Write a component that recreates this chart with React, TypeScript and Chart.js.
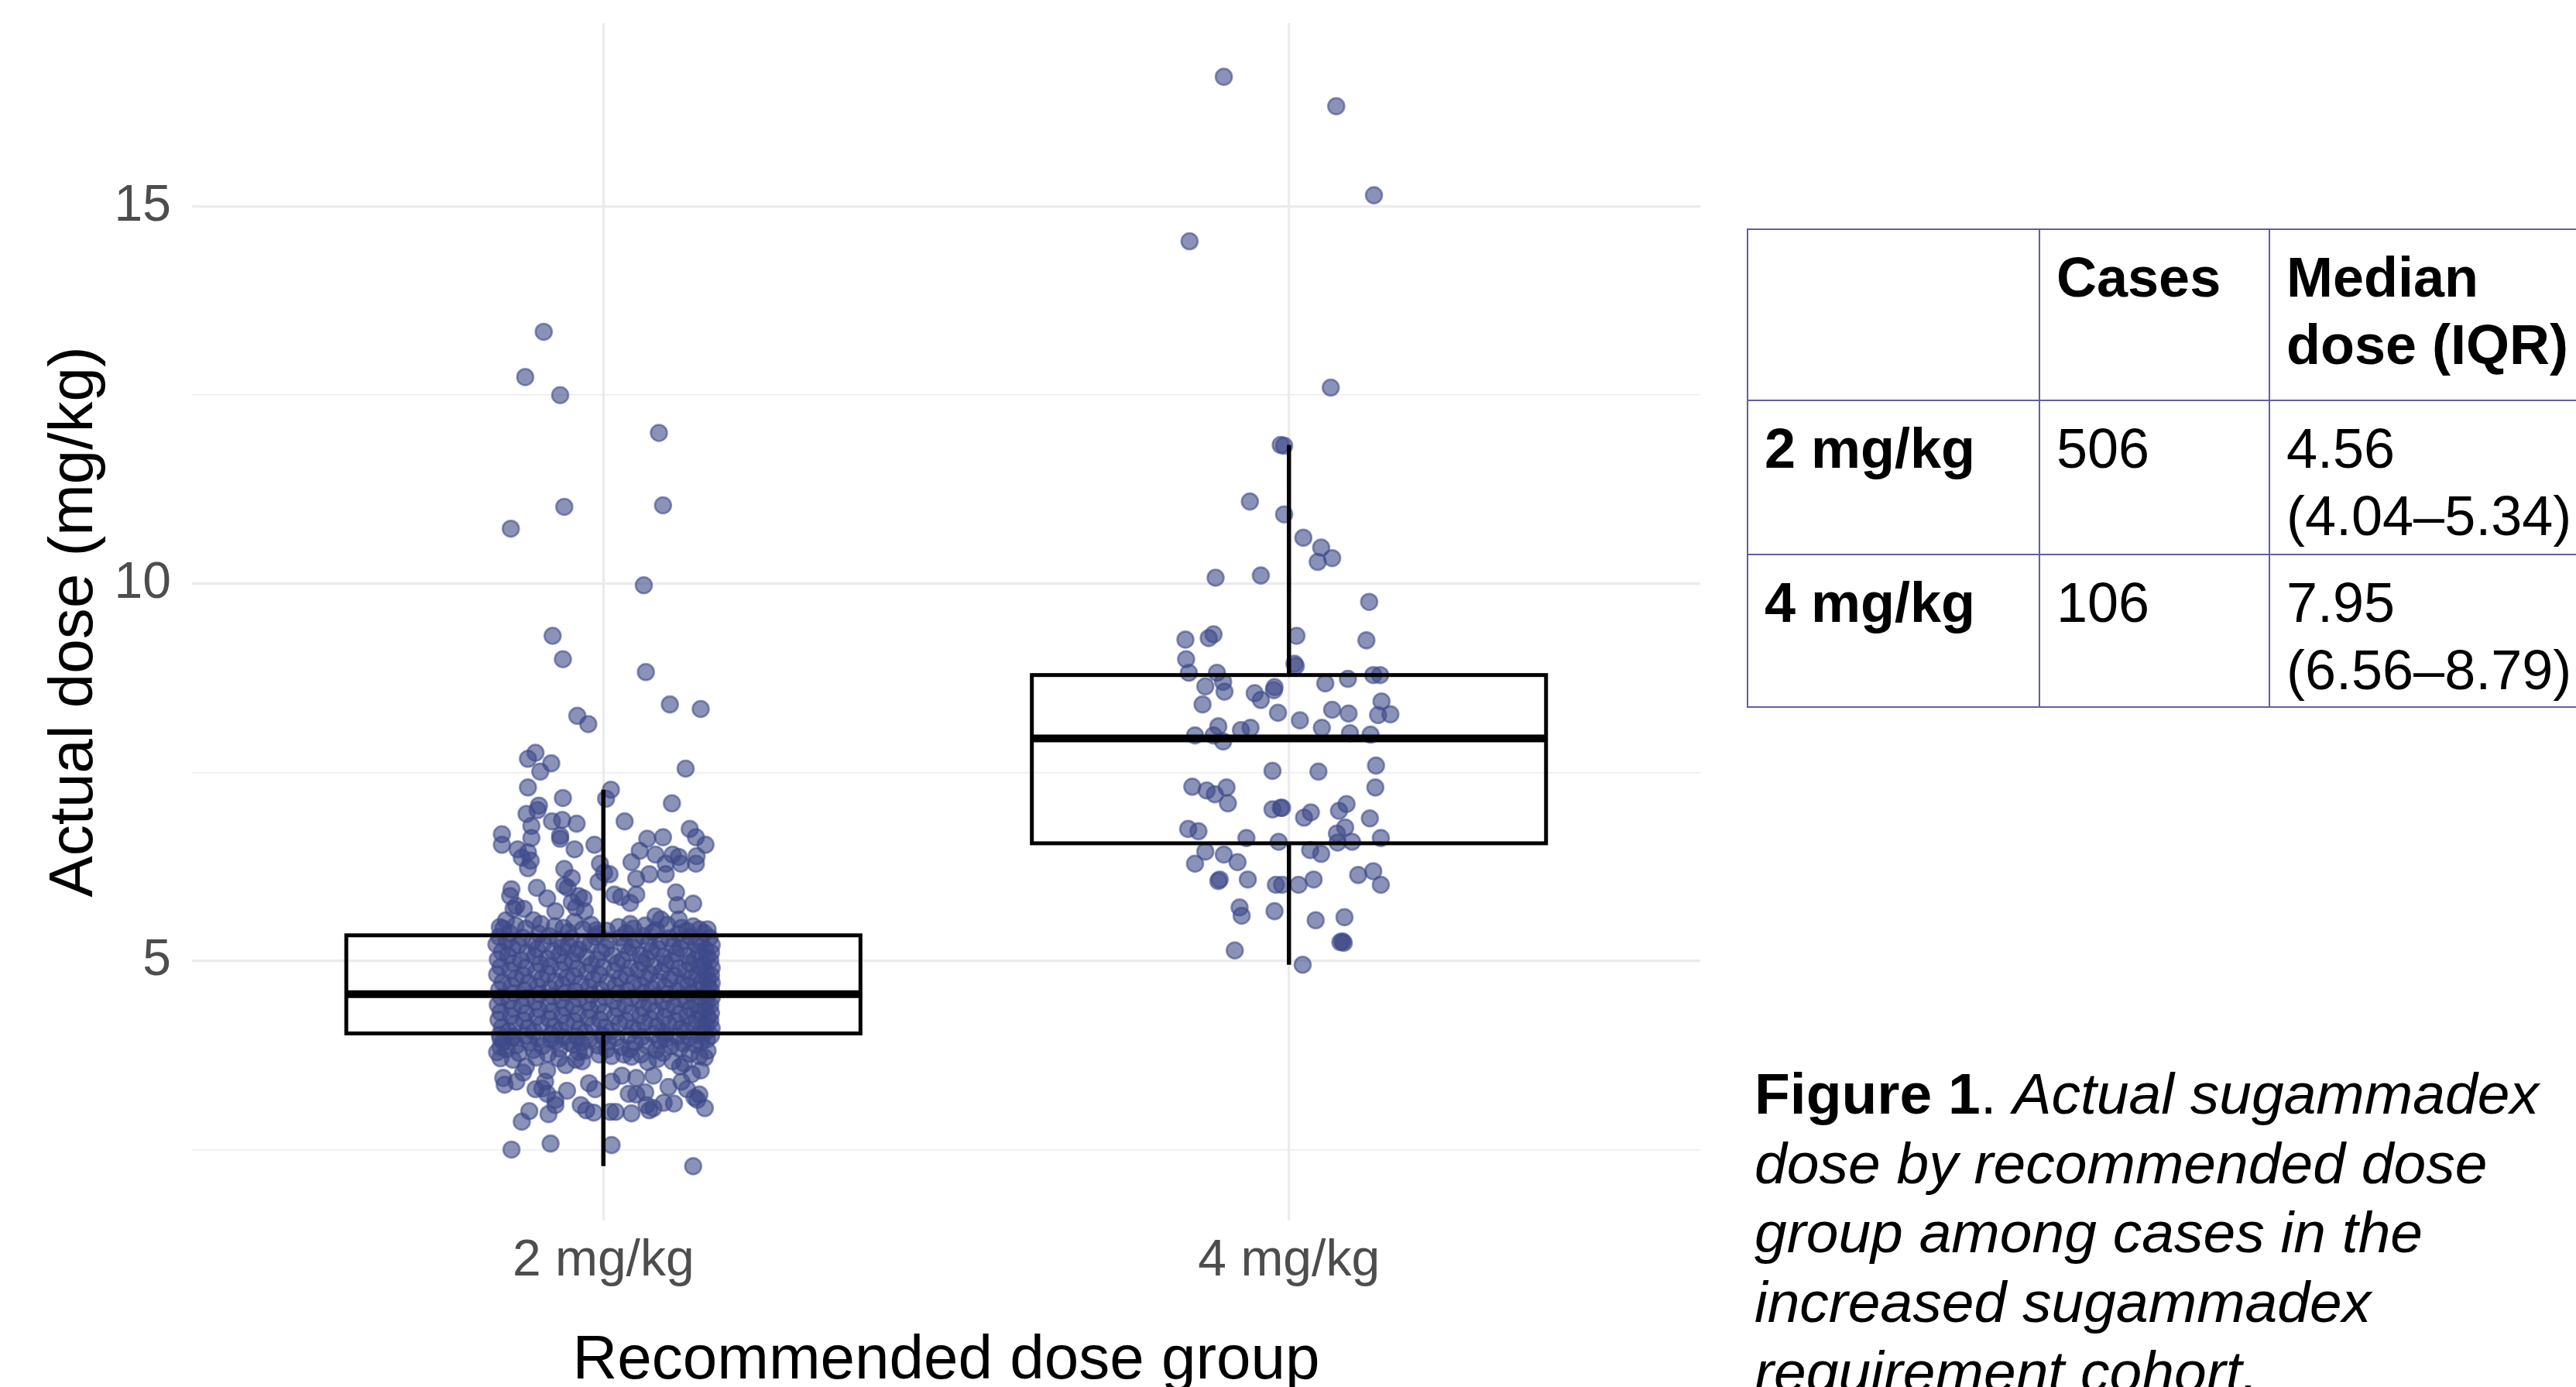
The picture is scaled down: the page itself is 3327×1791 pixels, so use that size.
import React, { useEffect, useRef } from 'react';
import { Chart, registerables } from 'chart.js';

Chart.register(...registerables);

const FONT = '"Liberation Sans", Arial, Helvetica, sans-serif';

// Categories and axis ticks
const categories = ['2 mg/kg', '4 mg/kg'];
const yMajorTicks = [5, 10, 15];
const yMinorTicks = [2.5, 7.5, 12.5];
const yMin = 1.56;
const yMax = 17.43;

const boxQ1 = [4.04, 6.56];
const boxMedian = [4.56, 7.95];
const boxQ3 = [5.34, 8.79];
const whiskerLow = [2.28, 4.95];
const whiskerHigh = [7.27, 11.84];

// Table contents
const tableHeader = ['', 'Cases', 'Median', 'dose (IQR)'];
const tableGroups = ['2 mg/kg', '4 mg/kg'];
const tableCases = ['506', '106'];
const tableMedians = ['4.56', '7.95'];
const tableIQR = ['(4.04–5.34)', '(6.56–8.79)'];

// Jittered points: [dose (mg/kg), horizontal jitter in category units]
const points2mg: [number, number][] = [
  [13.34,-0.087],[12.74,-0.114],[12.50,-0.063],[12.00,0.081],[11.02,-0.057],[11.04,0.087],[10.73,-0.135],[9.98,0.059],[9.31,-0.074],[9.00,-0.059],[8.83,0.062],
  [8.40,0.097],[8.34,0.142],[8.25,-0.038],[8.14,-0.022],
  [7.76,-0.099],[7.68,-0.110],[7.62,-0.076],[7.51,-0.092],[7.55,0.120],[7.30,-0.110],[7.16,-0.059],[7.27,0.011],[7.15,0.004],[7.09,0.100],
  [7.06,-0.094],[7.00,-0.096],[6.95,-0.112],[6.85,0.031],[6.85,-0.075],[6.87,-0.060],[6.82,-0.039],[6.79,-0.105],[6.63,-0.105],[6.68,-0.148],[6.54,-0.148],[6.66,-0.063],[6.62,-0.063],[6.54,-0.013],[6.75,0.126],[6.64,0.135],[6.54,0.149],[6.62,0.064],[6.64,0.087],[6.48,-0.042],
  [6.44,-0.110],[6.37,-0.119],[6.33,-0.106],[6.23,-0.110],[6.48,-0.125],
  [6.46,0.053],[6.31,0.041],[6.41,0.076],[6.41,0.101],[6.38,0.110],[6.29,0.091],[6.29,0.113],[6.39,0.136],[6.29,0.135],
  [6.29,-0.005],[6.17,0.001],[6.15,0.009],
  [6.22,-0.057],[6.10,-0.046],[6.00,-0.057],[5.97,-0.052],
  [6.15,0.067],[6.15,0.091],[6.09,0.048],[5.88,0.048],[5.91,0.106],[5.76,0.131],[5.74,0.108],
  [6.05,-0.007],[5.88,0.016],[5.85,0.026],[5.77,0.039],
  [5.95,-0.134],[5.86,-0.136],[5.73,-0.127],[5.69,-0.131],[5.69,-0.116],
  [5.97,-0.097],[5.83,-0.082],[5.66,-0.070],
  [5.86,-0.036],[5.83,-0.029],[5.71,-0.040],[5.66,-0.027],[5.78,-0.046],
  [5.54,-0.142],[5.54,-0.102],[5.49,-0.091],[5.52,-0.042],
  [5.49,0.039],[5.59,0.076],[5.55,0.084],[5.55,0.110],[5.42,0.140],[5.40,0.122],
  [5.41,-0.010],[5.40,0.005],
  [5.47,-0.128],[5.46,-0.071],[5.48,-0.018],[5.45,0.022],[5.47,0.061],[5.48,0.093],[5.46,0.131],[5.45,-0.151],
  [5.43,-0.113],[5.44,-0.058],[5.42,-0.030],[5.43,0.044],[5.41,0.077],[5.44,0.114],[5.42,0.152],[5.43,-0.146],
  [5.37,-0.137],[5.36,-0.094],[5.38,-0.051],[5.36,-0.008],[5.37,0.033],[5.38,0.072],[5.36,0.109],[5.37,0.147],
  [5.32,-0.152],[5.31,-0.118],[5.33,-0.079],[5.30,-0.047],[5.32,-0.012],[5.31,0.025],[5.33,0.058],[5.30,0.096],[5.32,0.127],[5.31,0.155],
  [5.27,-0.141],[5.26,-0.103],[5.28,-0.066],[5.25,-0.028],[5.27,0.008],[5.28,0.047],[5.26,0.083],[5.27,0.118],[5.25,0.142],
  [5.22,-0.156],[5.21,-0.124],[5.23,-0.088],[5.20,-0.051],[5.22,-0.019],[5.21,0.031],[5.23,0.066],[5.20,0.102],[5.22,0.135],[5.21,0.158],
  [5.17,-0.133],[5.16,-0.097],[5.18,-0.060],[5.15,-0.036],[5.17,0.004],[5.18,0.042],[5.16,0.079],[5.17,0.112],[5.15,0.149],
  [5.12,-0.148],[5.11,-0.111],[5.13,-0.073],[5.10,-0.040],[5.12,-0.003],[5.11,0.037],[5.13,0.070],[5.10,0.106],[5.12,0.139],[5.11,0.157],
  [5.07,-0.139],[5.06,-0.100],[5.08,-0.064],[5.05,-0.025],[5.07,0.013],[5.08,0.054],[5.06,0.088],[5.07,0.123],[5.05,0.151],
  [5.02,-0.154],[5.01,-0.120],[5.03,-0.082],[5.00,-0.045],[5.02,-0.009],[5.01,0.028],[5.03,0.063],[5.00,0.099],[5.02,0.133],[5.01,0.156],
  [4.97,-0.131],[4.96,-0.092],[4.98,-0.057],[4.95,-0.018],[4.97,0.020],[4.98,0.057],[4.96,0.091],[4.97,0.126],[4.95,0.146],
  [4.92,-0.150],[4.91,-0.113],[4.93,-0.077],[4.90,-0.038],[4.92,0.000],[4.91,0.039],[4.93,0.074],[4.90,0.110],[4.92,0.141],[4.91,0.158],
  [4.87,-0.136],[4.86,-0.098],[4.88,-0.062],[4.85,-0.024],[4.87,0.016],[4.88,0.051],[4.86,0.085],[4.87,0.120],[4.85,0.150],
  [4.82,-0.155],[4.81,-0.117],[4.83,-0.081],[4.80,-0.043],[4.82,-0.006],[4.81,0.034],[4.83,0.068],[4.80,0.104],[4.82,0.137],[4.81,0.157],
  [4.77,-0.128],[4.76,-0.090],[4.78,-0.053],[4.75,-0.015],[4.77,0.024],[4.78,0.061],[4.76,0.097],[4.77,0.129],[4.75,0.152],
  [4.72,-0.147],[4.71,-0.109],[4.73,-0.070],[4.70,-0.033],[4.72,0.006],[4.71,0.044],[4.73,0.080],[4.70,0.115],[4.72,0.143],[4.71,0.158],
  [4.67,-0.134],[4.66,-0.096],[4.68,-0.059],[4.65,-0.021],[4.67,0.018],[4.68,0.055],[4.66,0.090],[4.67,0.124],[4.65,0.153],
  [4.62,-0.152],[4.61,-0.115],[4.63,-0.078],[4.60,-0.041],[4.62,-0.004],[4.61,0.035],[4.63,0.071],[4.60,0.107],[4.62,0.138],[4.61,0.157],
  [4.57,-0.130],[4.56,-0.093],[4.58,-0.055],[4.55,-0.017],[4.57,0.022],[4.58,0.059],[4.56,0.094],[4.57,0.128],[4.55,0.151],
  [4.52,-0.149],[4.51,-0.112],[4.53,-0.074],[4.50,-0.036],[4.52,0.002],[4.51,0.041],[4.53,0.077],[4.50,0.112],[4.52,0.142],[4.51,0.158],
  [4.47,-0.137],[4.46,-0.099],[4.48,-0.061],[4.45,-0.023],[4.47,0.015],[4.48,0.052],[4.46,0.087],[4.47,0.121],[4.45,0.150],
  [4.42,-0.154],[4.41,-0.119],[4.43,-0.080],[4.40,-0.044],[4.42,-0.007],[4.41,0.032],[4.43,0.067],[4.40,0.103],[4.42,0.135],[4.41,0.156],
  [4.37,-0.132],[4.36,-0.094],[4.38,-0.056],[4.35,-0.019],[4.37,0.021],[4.38,0.058],[4.36,0.092],[4.37,0.127],[4.35,0.149],
  [4.32,-0.150],[4.31,-0.113],[4.33,-0.075],[4.30,-0.037],[4.32,0.001],[4.31,0.040],[4.33,0.076],[4.30,0.111],[4.32,0.140],[4.31,0.157],
  [4.27,-0.135],[4.26,-0.097],[4.28,-0.060],[4.25,-0.022],[4.27,0.017],[4.28,0.054],[4.26,0.089],[4.27,0.123],[4.25,0.152],
  [4.22,-0.153],[4.21,-0.116],[4.23,-0.079],[4.20,-0.042],[4.22,-0.005],[4.21,0.033],[4.23,0.069],[4.20,0.106],[4.22,0.136],[4.21,0.156],
  [4.17,-0.129],[4.16,-0.091],[4.18,-0.054],[4.15,-0.016],[4.17,0.023],[4.18,0.060],[4.16,0.095],[4.17,0.130],[4.15,0.150],
  [4.12,-0.148],[4.11,-0.110],[4.13,-0.072],[4.10,-0.035],[4.12,0.003],[4.11,0.043],[4.13,0.078],[4.10,0.113],[4.12,0.144],[4.11,0.158],
  [4.07,-0.138],[4.06,-0.101],[4.08,-0.063],[4.05,-0.026],[4.07,0.012],[4.08,0.050],[4.06,0.086],[4.07,0.119],[4.05,0.148],
  [4.02,-0.151],[4.01,-0.114],[4.03,-0.076],[4.00,-0.039],[4.02,-0.002],[4.01,0.036],[4.03,0.072],[4.00,0.108],[4.02,0.139],[4.01,0.157],[4.00,-0.131],[4.02,0.090],
  [3.98,-0.133],[3.97,-0.095],[3.99,-0.058],[3.96,-0.020],[3.98,0.019],[3.99,0.056],[3.97,0.091],[3.98,0.125],[3.96,0.151],[3.97,-0.150],[3.99,0.000],[3.96,-0.076],
  [3.93,-0.146],[3.92,-0.108],[3.94,-0.070],[3.91,-0.032],[3.93,0.007],[3.92,0.046],[3.94,0.082],[3.91,0.116],[3.93,0.143],[3.92,-0.050],
  [3.88,-0.127],[3.87,-0.089],[3.89,-0.044],[3.86,0.026],[3.88,0.063],[3.87,0.098],[3.89,0.134],[3.86,-0.150],[3.88,-0.008],
  [3.83,-0.141],[3.82,-0.102],[3.84,-0.064],[3.81,-0.027],[3.83,0.039],[3.82,0.077],[3.84,0.111],[3.81,0.152],[3.83,0.005],
  [3.78,-0.123],[3.77,-0.081],[3.79,-0.036],[3.76,0.030],[3.78,0.087],[3.77,0.126],[3.79,-0.155],[3.76,0.055],
  [3.72,-0.098],[3.71,-0.065],[3.73,0.041],[3.70,0.079],[3.72,0.148],[3.71,-0.150],
  [3.76,-0.006],[3.74,0.012],[3.66,0.065],[3.67,0.101],[3.64,0.118],[3.74,0.140],[3.50,0.129],
  [3.55,-0.082],[3.40,-0.085],[3.62,-0.055],[3.69,-0.040],[3.67,-0.031],
  [3.45,-0.146],[3.36,-0.144],[3.40,-0.127],[3.52,-0.117],[3.60,-0.113],[3.69,-0.132],
  [3.33,0.095],[3.40,0.114],[3.30,0.122],[3.19,0.133],[3.23,0.140],[3.55,0.142],[3.60,0.112],
  [3.38,-0.021],[3.30,-0.012],[3.40,0.012],[3.48,0.027],[3.24,0.037],[3.45,0.048],[3.23,0.048],[3.26,0.061],[3.48,0.073],[3.09,0.063],
  [3.30,-0.099],[3.31,-0.089],[3.24,-0.082],[3.16,-0.070],[3.28,-0.053],
  [3.09,-0.033],[3.02,-0.025],[2.99,-0.014],[3.00,0.010],[3.00,0.018],[2.98,0.041],[3.02,0.067],[3.05,0.073],[3.12,0.088],[3.11,0.103],[3.16,0.137],[3.05,0.148],
  [2.87,-0.119],[3.01,-0.108],[2.97,-0.080],[3.09,-0.070],
  [2.50,-0.134],[2.58,-0.077],[2.56,0.012],[2.28,0.131],
];

const points4mg: [number, number][] = [
  [16.72,-0.095],[16.33,0.069],[15.15,0.124],[14.54,-0.145],[12.60,0.061],[11.84,-0.012],[11.83,-0.007],[11.09,-0.057],[10.92,-0.007],[10.61,0.021],
  [10.48,0.047],[10.29,0.042],[10.34,0.063],[10.08,-0.107],[10.11,-0.041],[9.76,0.117],[9.33,-0.110],[9.28,-0.117],[9.26,-0.151],[9.31,0.011],
  [9.25,0.113],[9.00,-0.150],[8.94,0.008],[8.91,0.010],[8.82,-0.146],[8.82,-0.105],[8.70,-0.096],[8.79,0.123],[8.79,0.133],[8.64,-0.122],
  [8.63,-0.021],[8.59,-0.022],[8.55,-0.050],[8.46,-0.041],[8.68,0.053],[8.74,0.086],[8.57,-0.094],[8.40,-0.126],[8.44,0.135],[8.29,-0.016],
  [8.33,0.063],[8.28,0.087],[8.26,0.130],[8.27,0.148],[8.19,0.016],[8.11,-0.103],[7.99,-0.137],[7.99,-0.110],[7.91,-0.096],[8.06,-0.070],
  [8.09,-0.056],[8.09,0.048],[8.02,0.089],[8.00,0.119],[7.52,-0.024],[7.51,0.043],[7.59,0.127],[7.30,0.126],[7.31,-0.141],[7.26,-0.120],
  [7.21,-0.108],[7.30,-0.091],[7.09,-0.089],[7.01,-0.024],[7.03,-0.012],[7.03,-0.010],[6.90,0.022],[6.97,0.032],[6.99,0.073],[7.08,0.084],
  [6.89,0.118],[6.75,-0.147],[6.72,-0.132],[6.63,-0.062],[6.58,-0.015],[6.69,0.070],[6.77,0.082],[6.58,0.092],[6.57,0.071],[6.63,0.134],
  [6.45,-0.122],[6.41,-0.095],[6.31,-0.075],[6.29,-0.137],[6.47,0.031],[6.42,0.047],[6.06,-0.103],[6.08,-0.101],[6.08,-0.060],[6.01,-0.019],
  [6.01,-0.010],[6.01,0.014],[6.08,0.036],[6.14,0.101],[6.19,0.123],[6.01,0.134],[5.71,-0.072],[5.60,-0.069],[5.66,-0.021],[5.54,0.039],
  [5.58,0.081],[5.25,0.075],[5.24,0.080],[5.26,0.078],[5.14,-0.079],[4.95,0.020],
];

const POINT_COLOR = 'rgba(62,74,137,0.6)';

export default function App() {
  const canvasRef = useRef<HTMLCanvasElement>(null);

  useEffect(() => {
    const canvas = canvasRef.current;
    if (!canvas) return;

    const boxPlugin = {
      id: 'boxplots',
      afterDatasetsDraw(chart: any) {
        const { ctx, scales } = chart;
        const x = scales.x;
        const y = scales.y;
        ctx.save();
        ctx.strokeStyle = '#000000';
        ctx.lineCap = 'butt';
        ctx.lineJoin = 'miter';
        categories.forEach((_, i) => {
          const c = i + 1;
          const xc = x.getPixelForValue(c);
          const xl = x.getPixelForValue(c - 0.375);
          const xr = x.getPixelForValue(c + 0.375);
          const yq1 = y.getPixelForValue(boxQ1[i]);
          const yq3 = y.getPixelForValue(boxQ3[i]);
          const ymed = y.getPixelForValue(boxMedian[i]);
          const ylo = y.getPixelForValue(whiskerLow[i]);
          const yhi = y.getPixelForValue(whiskerHigh[i]);
          ctx.lineWidth = 5.5;
          ctx.beginPath();
          ctx.moveTo(xc, yhi);
          ctx.lineTo(xc, yq3);
          ctx.moveTo(xc, yq1);
          ctx.lineTo(xc, ylo);
          ctx.stroke();
          ctx.lineWidth = 5;
          ctx.strokeRect(xl, yq3, xr - xl, yq1 - yq3);
          ctx.lineWidth = 10;
          ctx.beginPath();
          ctx.moveTo(xl, ymed);
          ctx.lineTo(xr, ymed);
          ctx.stroke();
        });
        ctx.restore();
      },
    };

    const zeroPadding = (scale: any) => {
      scale.paddingLeft = 0;
      scale.paddingRight = 0;
      scale.paddingTop = 0;
      scale.paddingBottom = 0;
    };

    const chart = new Chart(canvas, {
      type: 'scatter',
      data: {
        datasets: [
          {
            label: categories[0],
            data: points2mg.map(([d, j]) => ({ x: 1 + j, y: d })),
            backgroundColor: POINT_COLOR,
            borderColor: POINT_COLOR,
            pointRadius: 10.5,
            pointBorderWidth: 2.6,
          },
          {
            label: categories[1],
            data: points4mg.map(([d, j]) => ({ x: 2 + j, y: d })),
            backgroundColor: POINT_COLOR,
            borderColor: POINT_COLOR,
            pointRadius: 10.5,
            pointBorderWidth: 2.6,
          },
        ],
      },
      options: {
        responsive: false,
        devicePixelRatio: 1,
        animation: false,
        events: [],
        layout: { padding: { top: 30, right: 44, left: 0, bottom: 0 } },
        plugins: {
          legend: { display: false },
          tooltip: { enabled: false },
        },
        scales: {
          x: {
            type: 'linear',
            min: 0.4,
            max: 2.6,
            bounds: 'data',
            afterBuildTicks: (scale: any) => {
              scale.ticks = categories.map((_, i) => ({ value: i + 1 }));
            },
            afterFit: (scale: any) => {
              scale.height = 1830 - 1576;
              zeroPadding(scale);
            },
            border: { display: false },
            grid: { color: '#ebebeb', lineWidth: 3.2, drawTicks: false },
            ticks: {
              autoSkip: false,
              maxRotation: 0,
              minRotation: 0,
              padding: 13,
              color: '#4d4d4d',
              font: { family: FONT, size: 66 },
              callback: (v: any) => categories[Math.round(Number(v)) - 1] ?? '',
            },
            title: {
              display: true,
              text: 'Recommended dose group',
              color: '#000000',
              font: { family: FONT, size: 80 },
              padding: { top: 0, bottom: 24 },
            },
          },
          y: {
            type: 'linear',
            min: yMin,
            max: yMax,
            bounds: 'data',
            afterBuildTicks: (scale: any) => {
              scale.ticks = [...yMinorTicks, ...yMajorTicks]
                .sort((a, b) => a - b)
                .map((v) => ({ value: v }));
            },
            afterFit: (scale: any) => {
              scale.width = 248;
              zeroPadding(scale);
            },
            border: { display: false },
            grid: {
              color: '#ebebeb',
              drawTicks: false,
              lineWidth: (ctx: any) =>
                ctx.tick && yMajorTicks.includes(ctx.tick.value) ? 3.2 : 1.6,
            },
            ticks: {
              autoSkip: false,
              padding: 27,
              color: '#4d4d4d',
              font: { family: FONT, size: 66 },
              callback: (v: any) => (yMajorTicks.includes(Number(v)) ? String(v) : ''),
            },
            title: {
              display: true,
              text: 'Actual dose (mg/kg)',
              color: '#000000',
              font: { family: FONT, size: 80 },
              padding: { top: 49, bottom: 0 },
            },
          },
        },
      } as any,
      plugins: [boxPlugin],
    });

    return () => chart.destroy();
  }, []);

  const cellBase: React.CSSProperties = {
    border: '2px solid #625f9e',
    padding: '18px 21px 0 21px',
    verticalAlign: 'top',
    textAlign: 'left',
    whiteSpace: 'nowrap',
  };

  return (
    <div
      style={{
        position: 'fixed',
        left: 0,
        top: 0,
        width: 3327,
        height: 1791,
        overflow: 'hidden',
        background: '#ffffff',
        fontFamily: FONT,
      }}
    >
      <canvas
        ref={canvasRef}
        width={2240}
        height={1830}
        style={{ position: 'absolute', left: 0, top: 0, width: 2240, height: 1830 }}
      />
      <table
        style={{
          position: 'absolute',
          left: 2256,
          top: 295,
          borderCollapse: 'collapse',
          tableLayout: 'fixed',
          width: 377 + 297 + 520,
          fontFamily: FONT,
          fontSize: 72,
          lineHeight: '87px',
          color: '#000',
        }}
      >
        <colgroup>
          <col style={{ width: 377 }} />
          <col style={{ width: 297 }} />
          <col style={{ width: 520 }} />
        </colgroup>
        <tbody>
          <tr style={{ height: 221 }}>
            <th style={cellBase}>{tableHeader[0]}</th>
            <th style={cellBase}>{tableHeader[1]}</th>
            <th style={cellBase}>
              {tableHeader[2]}
              <br />
              {tableHeader[3]}
            </th>
          </tr>
          {tableGroups.map((g, i) => (
            <tr key={g} style={{ height: i === 0 ? 199 : 197 }}>
              <td style={{ ...cellBase, fontWeight: 'bold' }}>{g}</td>
              <td style={cellBase}>{tableCases[i]}</td>
              <td style={cellBase}>
                {tableMedians[i]}
                <br />
                {tableIQR[i]}
              </td>
            </tr>
          ))}
        </tbody>
      </table>
      <div
        style={{
          position: 'absolute',
          left: 2266,
          top: 1368,
          fontSize: 75,
          lineHeight: '89.7px',
          whiteSpace: 'nowrap',
          color: '#000',
        }}
      >
        <b>Figure 1</b>.{' '}
        <i>
          Actual sugammadex
          <br />
          dose by recommended dose
          <br />
          group among cases in the
          <br />
          increased sugammadex
          <br />
          requirement cohort.
        </i>
      </div>
    </div>
  );
}
